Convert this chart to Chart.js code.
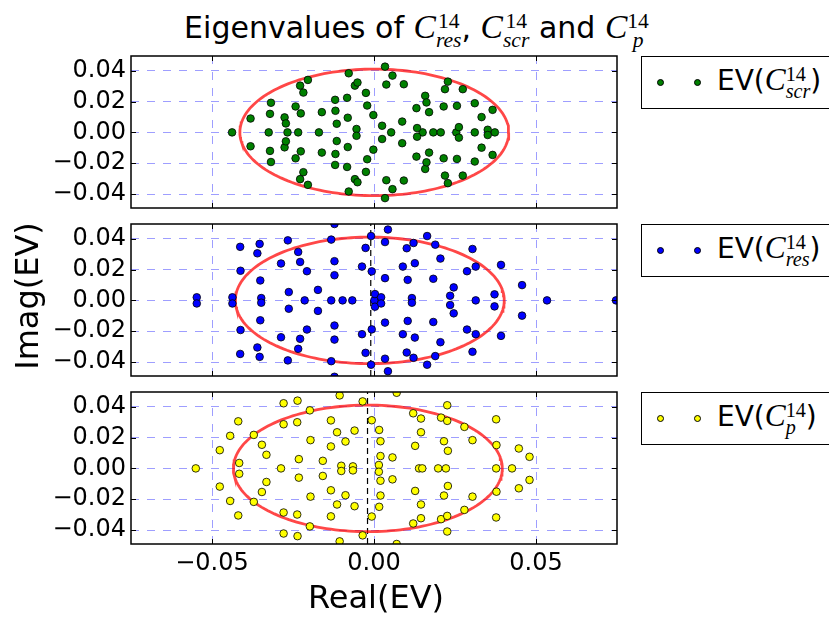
<!DOCTYPE html>
<html>
<head>
<meta charset="utf-8">
<script src="https://cdn.jsdelivr.net/npm/chart.js@4.4.1/dist/chart.umd.min.js"></script>
<style>
html, body { margin: 0; padding: 0; background: #fff; }
#fig { position: relative; width: 829px; height: 618px; overflow: hidden;
       font-family: "DejaVu Sans", sans-serif; color: #000; background: #fff; }
#fig canvas { position: absolute; left: 0; }
.title { position: absolute; left: 2px; top: 9px; width: 829px; text-align: center;
         font-size: 30px; line-height: 36px; white-space: nowrap; }
.mi { font-family: "Liberation Serif", serif; font-style: italic; font-size: 1.12em; }
.ss { display: inline-grid; line-height: 1; font-family: "Liberation Serif", serif; font-size: 0.72em; }
.ss > span { grid-area: 1 / 1; }
.sup { position: relative; top: -0.45em; }
.sub { position: relative; top: 0.42em; font-style: italic; }
.legend { position: absolute; left: 641px; width: 220px; height: 51px;
          border: 1px solid #000; background: #fff; }
.legend .dot { position: absolute; top: 22px; width: 7px; height: 7px; border-radius: 50%;
               border: 0.8px solid #000; box-sizing: border-box; }
.legend .txt { position: absolute; left: 75px; top: 6px; font-size: 28px; line-height: 34px; white-space: nowrap; }
.ylabel { position: absolute; left: -123px; top: 278px; width: 300px; text-align: center;
          font-size: 32px; line-height: 36px; transform: rotate(-90deg); }
.xlabel { position: absolute; left: 0; top: 579px; width: 752px; text-align: center;
          font-size: 32px; line-height: 36px; }
</style>
</head>
<body>
<div id="fig">
  <div class="title">Eigenvalues of <span class="mi">C</span><span class="ss"><span class="sup">14</span><span class="sub">res</span></span>, <span class="mi">C</span><span class="ss"><span class="sup">14</span><span class="sub">scr</span></span> and <span class="mi">C</span><span class="ss"><span class="sup">14</span><span class="sub">p</span></span></div>

  <canvas id="c-scr" width="829" height="176" style="top:44px"></canvas>
  <canvas id="c-res" width="829" height="176" style="top:212px"></canvas>
  <canvas id="c-p" width="829" height="204" style="top:380px"></canvas>

  <div class="legend" style="top:56px">
    <span class="dot" style="left:15px;background:#008000"></span>
    <span class="dot" style="left:52px;background:#008000"></span>
    <div class="txt">EV(<span class="mi">C</span><span class="ss"><span class="sup">14</span><span class="sub">scr</span></span>)</div>
  </div>
  <div class="legend" style="top:224px">
    <span class="dot" style="left:15px;background:#0000ff"></span>
    <span class="dot" style="left:52px;background:#0000ff"></span>
    <div class="txt">EV(<span class="mi">C</span><span class="ss"><span class="sup">14</span><span class="sub">res</span></span>)</div>
  </div>
  <div class="legend" style="top:392px">
    <span class="dot" style="left:15px;background:#ffff00"></span>
    <span class="dot" style="left:52px;background:#ffff00"></span>
    <div class="txt">EV(<span class="mi">C</span><span class="ss"><span class="sup">14</span><span class="sub">p</span></span>)</div>
  </div>

  <div class="ylabel">Imag(EV)</div>
  <div class="xlabel">Real(EV)</div>
</div>

<script>
// ── axes ────────────────────────────────────────────────────────────────
const X_MIN = -0.075, X_MAX = 0.075;
const Y_MIN = -0.049, Y_MAX = 0.0495;
const xTicks = [-0.05, 0, 0.05];
const yTicks = [-0.04, -0.02, 0, 0.02, 0.04];

// ── eigenvalues (real part / imaginary part) ────────────────────────────
const scrRe = [
  -0.0438, -0.0325, -0.0267, -0.0234, -0.0170, 0.0053, 0.0150, 0.0183, 0.0206, 0.0254, 0.0311, 0.0373,
  -0.0381, -0.0381, -0.0321, -0.0321, -0.0318, -0.0318, -0.0276, -0.0276, -0.0272, -0.0272,
  -0.0242, -0.0242, -0.0226, -0.0226, -0.0228, -0.0228, -0.0218, -0.0218, -0.0204, -0.0204,
  -0.0161, -0.0161, -0.0120, -0.0120, -0.0119, -0.0119, -0.0115, -0.0115, -0.0083, -0.0083,
  -0.0081, -0.0081, -0.0078, -0.0078, -0.0059, -0.0059, -0.0051, -0.0051, -0.0054, -0.0054,
  -0.0025, -0.0025, -0.0021, -0.0021, -0.0002, -0.0002, 0.0034, 0.0034, 0.0057, 0.0057,
  0.0038, 0.0038, 0.0092, 0.0092, 0.0025, 0.0025, 0.0087, 0.0087, 0.0131, 0.0131,
  0.0133, 0.0133, 0.0158, 0.0158, 0.0162, 0.0162, 0.0170, 0.0170, 0.0215, 0.0215,
  0.0219, 0.0219, 0.0228, 0.0228, 0.0256, 0.0256, 0.0262, 0.0262, 0.0274, 0.0274,
  0.0311, 0.0311, 0.0332, 0.0332, 0.0351, 0.0351, 0.0366, 0.0366
];
const scrIm = [
  0, 0, 0, 0, 0, 0, 0, 0, 0, 0, 0, 0,
  0.0090, -0.0090, 0.0120, -0.0120, 0.0192, -0.0192, 0.0097, -0.0097, 0.0058, -0.0058,
  0.0168, -0.0168, 0.0123, -0.0123, 0.0303, -0.0303, 0.0258, -0.0258, 0.0340, -0.0340,
  0.0131, -0.0131, 0.0211, -0.0211, 0.0140, -0.0140, 0.0056, -0.0056, 0.0224, -0.0224,
  0.0095, -0.0095, 0.0383, -0.0383, 0.0303, -0.0303, 0.0323, -0.0323, 0.0022, -0.0022,
  0.0256, -0.0256, 0.0174, -0.0174, 0.0112, -0.0112, 0.0426, -0.0426, 0.0368, -0.0368,
  0.0310, -0.0310, 0.0312, -0.0312, 0.0043, -0.0043, 0.0070, -0.0070, 0.0157, -0.0157,
  0.0028, -0.0028, 0.0237, -0.0237, 0.0194, -0.0194, 0.0131, -0.0131, 0.0168, -0.0168,
  0.0280, -0.0280, 0.0329, -0.0329, 0.0172, -0.0172, 0.0034, -0.0034, 0.0280, -0.0280,
  0.0189, -0.0189, 0.0099, -0.0099, 0.0017, -0.0017, 0.0146, -0.0146
];

const resRe = [
  -0.0214, -0.0132, -0.0097, -0.0067, 0.0001, 0.0314, 0.0534, 0.0747,
  -0.0547, -0.0547, -0.0437, -0.0437, -0.0413, -0.0413, -0.0412, -0.0412, -0.0353, -0.0353,
  -0.0360, -0.0360, -0.0351, -0.0351, -0.0348, -0.0348, -0.0266, -0.0266, -0.0287, -0.0287,
  -0.0234, -0.0234, -0.0228, -0.0228, -0.0207, -0.0207, -0.0263, -0.0263, -0.0173, -0.0173,
  -0.0132, -0.0132, -0.0122, -0.0122, -0.0122, -0.0122, -0.0122, -0.0122, -0.0037, -0.0037,
  -0.0026, -0.0026, -0.0009, -0.0009, -0.0007, -0.0007, 0.0003, 0.0003, 0.0022, 0.0022,
  0.0043, 0.0043, 0.0034, 0.0034, 0.0122, 0.0122, 0.0101, 0.0101, 0.0164, 0.0164,
  0.0189, 0.0189, 0.0126, 0.0126, 0.0089, 0.0089, 0.0034, 0.0034, 0.0104, 0.0104,
  0.0183, 0.0183, 0.0205, 0.0205, 0.0117, 0.0117, 0.0246, 0.0246, 0.0235, 0.0235,
  0.0304, 0.0304, 0.0287, 0.0287, 0.0314, 0.0314, 0.0372, 0.0372, 0.0392, 0.0392,
  0.0457, 0.0457
];
const resIm = [
  0, 0, 0, 0, 0, 0, 0, 0,
  0.0020, -0.0020, 0.0020, -0.0020, 0.0347, -0.0347, 0.0192, -0.0192, 0.0366, -0.0366,
  0.0305, -0.0305, 0.0129, -0.0129, 0.0015, -0.0015, 0.0389, -0.0389, 0.0239, -0.0239,
  0.0314, -0.0314, 0.0249, -0.0249, 0.0189, -0.0189, 0.0054, -0.0054, 0.0068, -0.0068,
  0.0394, -0.0394, 0.0495, -0.0495, 0.0254, -0.0254, 0.0163, -0.0163, 0.0219, -0.0219,
  0.0340, -0.0340, 0.0417, -0.0417, 0.0188, -0.0188, 0.0041, -0.0041, 0.0020, -0.0020,
  0.0459, -0.0459, 0.0378, -0.0378, 0.0372, -0.0372, 0.0338, -0.0338, 0.0417, -0.0417,
  0.0361, -0.0361, 0.0241, -0.0241, 0.0219, -0.0219, 0.0144, -0.0144, 0.0133, -0.0133,
  0.0140, -0.0140, 0.0271, -0.0271, 0.0015, -0.0015, 0.0084, -0.0084, 0.0030, -0.0030,
  0.0333, -0.0333, 0.0189, -0.0189, 0.0219, -0.0219, 0.0039, -0.0039, 0.0230, -0.0230,
  0.0099, -0.0099
];

const pRe = [
  -0.0550, -0.0287, 0.0139, 0.0149, 0.0198, 0.0222, 0.0377, 0.0426,
  -0.0476, -0.0476, -0.0444, -0.0444, -0.0419, -0.0419, -0.0416, -0.0416, -0.0371, -0.0371,
  -0.0346, -0.0346, -0.0332, -0.0332, -0.0279, -0.0279, -0.0279, -0.0279, -0.0236, -0.0236,
  -0.0237, -0.0237, -0.0232, -0.0232, -0.0198, -0.0198, -0.0196, -0.0196, -0.0158, -0.0158,
  -0.0133, -0.0133, -0.0133, -0.0133, -0.0114, -0.0114, -0.0106, -0.0106, -0.0088, -0.0088,
  -0.0101, -0.0101, -0.0065, -0.0065, -0.0060, -0.0060, -0.0035, -0.0035, -0.0007, -0.0007,
  0.0070, 0.0070, 0.0016, 0.0016, 0.0020, 0.0020, 0.0020, 0.0020, 0.0015, 0.0015,
  0.0057, 0.0057, 0.0121, 0.0121, 0.0145, 0.0145, 0.0145, 0.0145, 0.0127, 0.0127,
  0.0207, 0.0207, 0.0226, 0.0226, 0.0226, 0.0226, 0.0216, 0.0216, 0.0228, 0.0228,
  0.0279, 0.0279, 0.0304, 0.0304, 0.0377, 0.0377, 0.0378, 0.0378, 0.0447, 0.0447,
  0.0480, 0.0480
];
const pIm = [
  0, 0, 0, 0, 0, 0, 0, 0,
  0.0118, -0.0118, 0.0211, -0.0211, 0.0305, -0.0305, 0.0035, -0.0035, 0.0217, -0.0217,
  0.0153, -0.0153, 0.0088, -0.0088, 0.0422, -0.0422, 0.0286, -0.0286, 0.0439, -0.0439,
  0.0299, -0.0299, 0.0060, -0.0060, 0.0376, -0.0376, 0.0183, -0.0183, 0.0049, -0.0049,
  0.0311, -0.0311, 0.0142, -0.0142, 0.0234, -0.0234, 0.0473, -0.0473, 0.0174, -0.0174,
  0.0017, -0.0017, 0.0013, -0.0013, 0.0245, -0.0245, 0.0434, -0.0434, 0.0312, -0.0312,
  0.0490, -0.0490, 0.0249, -0.0249, 0.0176, -0.0176, 0.0080, -0.0080, 0.0022, -0.0022,
  0.0071, -0.0071, 0.0357, -0.0357, 0.0323, -0.0323, 0.0234, -0.0234, 0.0146, -0.0146,
  0.0329, -0.0329, 0.0409, -0.0409, 0.0308, -0.0308, 0.0176, -0.0176, 0.0114, -0.0114,
  0.0269, -0.0269, 0.0183, -0.0183, 0.0318, -0.0318, 0.0151, -0.0151, 0.0129, -0.0129,
  0.0075, -0.0075
];

// red reference ellipse and black dashed mean line per panel
const ELLIPSE_RX = 0.0415, ELLIPSE_RY = 0.041;
const ellipseCx  = { scr: 0.0001, res: -0.0013, p: -0.0019 };
const meanLineX  = { scr: null,   res: -0.0010, p: -0.0020 };

// ── helpers ─────────────────────────────────────────────────────────────
const fmtTick = v => (v < 0 ? "\u2212" : "") + Math.abs(v).toFixed(2);

function ellipsePts(cx) {
    const pts = [];
    for (let i = 0; i <= 180; i++) {
        const t = (i / 180) * 2 * Math.PI;
        pts.push({ x: cx + ELLIPSE_RX * Math.cos(t), y: ELLIPSE_RY * Math.sin(t) });
    }
    return pts;
}

// black frame + inward tick marks, like the classic matplotlib axes
const framePlugin = {
    id: "frame",
    afterDraw(chart) {
        const { ctx, chartArea: a, scales: { x, y } } = chart;
        ctx.save();
        ctx.strokeStyle = "#000";
        ctx.lineWidth = 1;
        ctx.beginPath();
        xTicks.forEach(v => {
            const px = Math.round(x.getPixelForValue(v)) + 0.5;
            ctx.moveTo(px, a.bottom); ctx.lineTo(px, a.bottom - 5);
            ctx.moveTo(px, a.top);    ctx.lineTo(px, a.top + 5);
        });
        yTicks.forEach(v => {
            const py = Math.round(y.getPixelForValue(v)) + 0.5;
            ctx.moveTo(a.left, py);  ctx.lineTo(a.left + 5, py);
            ctx.moveTo(a.right, py); ctx.lineTo(a.right - 5, py);
        });
        ctx.stroke();
        ctx.lineWidth = 1.5;
        ctx.strokeRect(a.left, a.top, a.right - a.left, a.bottom - a.top);
        ctx.restore();
    },
};

function makePanel(id, key, re, im, color, showX) {
    const datasets = [
        { data: re.map((v, i) => ({ x: v, y: im[i] })),
          backgroundColor: color, borderColor: "#000", borderWidth: 0.8,
          pointRadius: 3.8, clip: 0, order: 0 },
        { data: ellipsePts(ellipseCx[key]), showLine: true, pointRadius: 0,
          borderColor: "rgba(255,0,0,0.72)", borderWidth: 2.8, clip: 0, order: 1 },
    ];
    if (meanLineX[key] !== null) {
        datasets.push({ data: [{ x: meanLineX[key], y: Y_MIN }, { x: meanLineX[key], y: Y_MAX }],
            showLine: true, pointRadius: 0, borderColor: "#000", borderWidth: 1.2,
            borderDash: [6, 4], clip: 0, order: 2 });
    }
    const grid = { color: "rgba(40,40,255,0.45)", lineWidth: 1, drawTicks: false };
    const border = { display: false, dash: [8, 8] };
    new Chart(document.getElementById(id), {
        type: "scatter",
        data: { datasets },
        plugins: [framePlugin],
        options: {
            responsive: false, animation: false, events: [],
            layout: { padding: { left: 0, right: 212, top: 12, bottom: showX ? 0 : 12 } },
            plugins: { legend: { display: false }, tooltip: { enabled: false } },
            scales: {
                x: {
                    type: "linear", min: X_MIN, max: X_MAX, grid, border,
                    afterBuildTicks: s => { s.ticks = xTicks.map(v => ({ value: v })); },
                    afterFit: s => { s.height = showX ? 40 : 0; s.paddingLeft = 0; s.paddingRight = 0; },
                    ticks: { display: showX, padding: 5, color: "#000", maxRotation: 0,
                             font: { family: "DejaVu Sans", size: 24 }, callback: fmtTick },
                },
                y: {
                    type: "linear", min: Y_MIN, max: Y_MAX, grid, border,
                    afterBuildTicks: s => { s.ticks = yTicks.map(v => ({ value: v })); },
                    afterFit: s => { s.width = 131; s.paddingTop = 0; s.paddingBottom = 0; },
                    ticks: { padding: 5, color: "#000",
                             font: { family: "DejaVu Sans", size: 24 }, callback: fmtTick },
                },
            },
        },
    });
}

makePanel("c-scr", "scr", scrRe, scrIm, "#008000", false);
makePanel("c-res", "res", resRe, resIm, "#0000ff", false);
makePanel("c-p",   "p",   pRe,   pIm,   "#ffff00", true);
</script>
</body>
</html>
